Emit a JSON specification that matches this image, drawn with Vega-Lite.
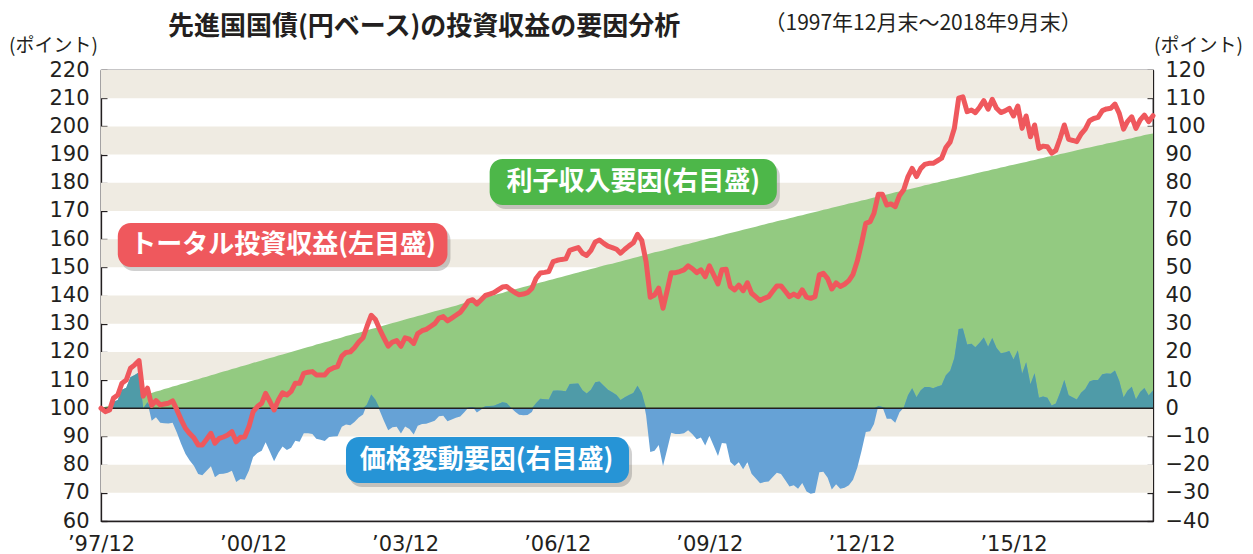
{
  "$schema": "https://vega.github.io/schema/vega-lite/v6.json",
  "width": 1052,
  "height": 451,
  "autosize": {"type": "none"},
  "padding": {"left": 101, "top": 70, "right": 100, "bottom": 33},
  "background": "white",
  "title": {"text": "先進国国債(円ベース)の投資収益の要因分析", "anchor": "start", "frame": "group", "dx": 67, "dy": 59, "font": "Noto Sans CJK JP", "fontSize": 26, "fontWeight": "bold", "color": "#231F20", "offset": 10, "baseline": "alphabetic"},
  "config": {
    "font": "Noto Sans CJK JP",
    "view": {"stroke": "#231F20", "strokeWidth": 1.2},
    "axis": {"grid": false, "labelFont": "DejaVu Sans", "labelFontSize": 21, "labelColor": "#231F20", "domainColor": "#231F20", "tickColor": "#231F20", "domainWidth": 1.3, "tickWidth": 1.3, "zindex": 1, "titleFont": "Noto Sans CJK JP", "titleFontWeight": "normal", "titleColor": "#231F20"}
  },
  "datasets": {
    "bands": [{"lo": 70, "hi": 80}, {"lo": 90, "hi": 100}, {"lo": 110, "hi": 120}, {"lo": 130, "hi": 140}, {"lo": 150, "hi": 160}, {"lo": 170, "hi": 180}, {"lo": 190, "hi": 200}, {"lo": 210, "hi": 220}],
    "notes": [
      {"kind": "total", "label": "トータル投資収益(左目盛)", "start": "1998-04-01", "end": "2004-10-01", "low": 150.1, "high": 165.7, "mid": "2001-07-05", "center": 157.9},
      {"kind": "interest", "label": "利子収入要因(右目盛)", "start": "2005-08-01", "end": "2011-04-01", "low": 172.1, "high": 188.4, "mid": "2008-06-01", "center": 180.3},
      {"kind": "price", "label": "価格変動要因(右目盛)", "start": "2002-10-01", "end": "2008-05-01", "low": 73.5, "high": 89.8, "mid": "2005-07-10", "center": 81.7}
    ],
    "returns": [
      {"date": "1997-12-01", "total": 100.0, "interest": 0.0, "price": 0.0},
      {"date": "1998-01-01", "total": 98.8, "interest": 0.5, "price": -1.7},
      {"date": "1998-02-01", "total": 99.4, "interest": 0.9, "price": -1.5},
      {"date": "1998-03-01", "total": 103.6, "interest": 1.4, "price": 2.2},
      {"date": "1998-04-01", "total": 104.7, "interest": 1.8, "price": 2.9},
      {"date": "1998-05-01", "total": 108.9, "interest": 2.3, "price": 6.6},
      {"date": "1998-06-01", "total": 110.0, "interest": 2.7, "price": 7.3},
      {"date": "1998-07-01", "total": 114.2, "interest": 3.2, "price": 11.0},
      {"date": "1998-08-01", "total": 115.4, "interest": 3.6, "price": 11.8},
      {"date": "1998-09-01", "total": 116.9, "interest": 4.1, "price": 12.8},
      {"date": "1998-10-01", "total": 104.3, "interest": 4.5, "price": -0.2},
      {"date": "1998-11-01", "total": 107.1, "interest": 5.0, "price": 2.1},
      {"date": "1998-12-01", "total": 101.0, "interest": 5.4, "price": -4.4},
      {"date": "1999-01-01", "total": 102.7, "interest": 5.9, "price": -3.2},
      {"date": "1999-02-01", "total": 101.2, "interest": 6.3, "price": -5.1},
      {"date": "1999-03-01", "total": 101.5, "interest": 6.8, "price": -5.3},
      {"date": "1999-04-01", "total": 101.8, "interest": 7.2, "price": -5.4},
      {"date": "1999-05-01", "total": 102.6, "interest": 7.7, "price": -5.1},
      {"date": "1999-06-01", "total": 99.4, "interest": 8.1, "price": -8.7},
      {"date": "1999-07-01", "total": 96.0, "interest": 8.6, "price": -12.6},
      {"date": "1999-08-01", "total": 92.9, "interest": 9.0, "price": -16.1},
      {"date": "1999-09-01", "total": 91.0, "interest": 9.5, "price": -18.5},
      {"date": "1999-10-01", "total": 89.5, "interest": 9.9, "price": -20.4},
      {"date": "1999-11-01", "total": 87.0, "interest": 10.3, "price": -23.3},
      {"date": "1999-12-01", "total": 87.0, "interest": 10.8, "price": -23.8},
      {"date": "2000-01-01", "total": 89.0, "interest": 11.2, "price": -22.2},
      {"date": "2000-02-01", "total": 91.1, "interest": 11.7, "price": -20.6},
      {"date": "2000-03-01", "total": 87.6, "interest": 12.1, "price": -24.5},
      {"date": "2000-04-01", "total": 89.3, "interest": 12.6, "price": -23.3},
      {"date": "2000-05-01", "total": 89.8, "interest": 13.0, "price": -23.2},
      {"date": "2000-06-01", "total": 90.5, "interest": 13.4, "price": -22.9},
      {"date": "2000-07-01", "total": 91.7, "interest": 13.9, "price": -22.2},
      {"date": "2000-08-01", "total": 88.1, "interest": 14.3, "price": -26.2},
      {"date": "2000-09-01", "total": 89.7, "interest": 14.8, "price": -25.1},
      {"date": "2000-10-01", "total": 89.8, "interest": 15.2, "price": -25.4},
      {"date": "2000-11-01", "total": 93.5, "interest": 15.6, "price": -22.1},
      {"date": "2000-12-01", "total": 98.8, "interest": 16.1, "price": -17.3},
      {"date": "2001-01-01", "total": 100.6, "interest": 16.5, "price": -15.9},
      {"date": "2001-02-01", "total": 101.8, "interest": 16.9, "price": -15.1},
      {"date": "2001-03-01", "total": 105.3, "interest": 17.4, "price": -12.1},
      {"date": "2001-04-01", "total": 102.4, "interest": 17.8, "price": -15.4},
      {"date": "2001-05-01", "total": 99.4, "interest": 18.2, "price": -18.8},
      {"date": "2001-06-01", "total": 102.9, "interest": 18.7, "price": -15.8},
      {"date": "2001-07-01", "total": 105.5, "interest": 19.1, "price": -13.6},
      {"date": "2001-08-01", "total": 104.7, "interest": 19.5, "price": -14.8},
      {"date": "2001-09-01", "total": 106.0, "interest": 20.0, "price": -14.0},
      {"date": "2001-10-01", "total": 108.9, "interest": 20.4, "price": -11.5},
      {"date": "2001-11-01", "total": 108.9, "interest": 20.8, "price": -11.9},
      {"date": "2001-12-01", "total": 112.4, "interest": 21.3, "price": -8.9},
      {"date": "2002-01-01", "total": 112.8, "interest": 21.7, "price": -8.9},
      {"date": "2002-02-01", "total": 113.0, "interest": 22.1, "price": -9.1},
      {"date": "2002-03-01", "total": 111.8, "interest": 22.6, "price": -10.8},
      {"date": "2002-04-01", "total": 111.8, "interest": 23.0, "price": -11.2},
      {"date": "2002-05-01", "total": 111.8, "interest": 23.4, "price": -11.6},
      {"date": "2002-06-01", "total": 113.6, "interest": 23.8, "price": -10.2},
      {"date": "2002-07-01", "total": 114.3, "interest": 24.3, "price": -10.0},
      {"date": "2002-08-01", "total": 114.8, "interest": 24.7, "price": -9.9},
      {"date": "2002-09-01", "total": 118.5, "interest": 25.1, "price": -6.6},
      {"date": "2002-10-01", "total": 119.8, "interest": 25.6, "price": -5.8},
      {"date": "2002-11-01", "total": 120.0, "interest": 26.0, "price": -6.0},
      {"date": "2002-12-01", "total": 121.5, "interest": 26.4, "price": -4.9},
      {"date": "2003-01-01", "total": 123.5, "interest": 26.8, "price": -3.3},
      {"date": "2003-02-01", "total": 125.0, "interest": 27.2, "price": -2.2},
      {"date": "2003-03-01", "total": 129.0, "interest": 27.7, "price": 1.3},
      {"date": "2003-04-01", "total": 133.0, "interest": 28.1, "price": 4.9},
      {"date": "2003-05-01", "total": 131.5, "interest": 28.5, "price": 3.0},
      {"date": "2003-06-01", "total": 128.0, "interest": 28.9, "price": -0.9},
      {"date": "2003-07-01", "total": 125.0, "interest": 29.4, "price": -4.4},
      {"date": "2003-08-01", "total": 122.0, "interest": 29.8, "price": -7.8},
      {"date": "2003-09-01", "total": 123.5, "interest": 30.2, "price": -6.7},
      {"date": "2003-10-01", "total": 124.0, "interest": 30.6, "price": -6.6},
      {"date": "2003-11-01", "total": 122.0, "interest": 31.0, "price": -9.0},
      {"date": "2003-12-01", "total": 125.0, "interest": 31.5, "price": -6.5},
      {"date": "2004-01-01", "total": 124.5, "interest": 31.9, "price": -7.4},
      {"date": "2004-02-01", "total": 123.0, "interest": 32.3, "price": -9.3},
      {"date": "2004-03-01", "total": 126.5, "interest": 32.7, "price": -6.2},
      {"date": "2004-04-01", "total": 127.5, "interest": 33.1, "price": -5.6},
      {"date": "2004-05-01", "total": 128.0, "interest": 33.5, "price": -5.5},
      {"date": "2004-06-01", "total": 129.0, "interest": 34.0, "price": -5.0},
      {"date": "2004-07-01", "total": 130.0, "interest": 34.4, "price": -4.4},
      {"date": "2004-08-01", "total": 132.0, "interest": 34.8, "price": -2.8},
      {"date": "2004-09-01", "total": 132.5, "interest": 35.2, "price": -2.7},
      {"date": "2004-10-01", "total": 131.0, "interest": 35.6, "price": -4.6},
      {"date": "2004-11-01", "total": 132.0, "interest": 36.0, "price": -4.0},
      {"date": "2004-12-01", "total": 133.0, "interest": 36.4, "price": -3.4},
      {"date": "2005-01-01", "total": 134.0, "interest": 36.9, "price": -2.9},
      {"date": "2005-02-01", "total": 136.0, "interest": 37.3, "price": -1.3},
      {"date": "2005-03-01", "total": 138.0, "interest": 37.7, "price": 0.3},
      {"date": "2005-04-01", "total": 138.5, "interest": 38.1, "price": 0.4},
      {"date": "2005-05-01", "total": 137.0, "interest": 38.5, "price": -1.5},
      {"date": "2005-06-01", "total": 138.5, "interest": 38.9, "price": -0.4},
      {"date": "2005-07-01", "total": 140.0, "interest": 39.3, "price": 0.7},
      {"date": "2005-08-01", "total": 140.5, "interest": 39.7, "price": 0.8},
      {"date": "2005-09-01", "total": 141.0, "interest": 40.1, "price": 0.9},
      {"date": "2005-10-01", "total": 142.0, "interest": 40.5, "price": 1.5},
      {"date": "2005-11-01", "total": 143.0, "interest": 40.9, "price": 2.1},
      {"date": "2005-12-01", "total": 143.2, "interest": 41.4, "price": 1.9},
      {"date": "2006-01-01", "total": 142.0, "interest": 41.8, "price": 0.2},
      {"date": "2006-02-01", "total": 141.0, "interest": 42.2, "price": -1.2},
      {"date": "2006-03-01", "total": 140.3, "interest": 42.6, "price": -2.3},
      {"date": "2006-04-01", "total": 140.5, "interest": 43.0, "price": -2.5},
      {"date": "2006-05-01", "total": 141.0, "interest": 43.4, "price": -2.4},
      {"date": "2006-06-01", "total": 142.5, "interest": 43.8, "price": -1.3},
      {"date": "2006-07-01", "total": 146.0, "interest": 44.2, "price": 1.8},
      {"date": "2006-08-01", "total": 148.0, "interest": 44.6, "price": 3.4},
      {"date": "2006-09-01", "total": 148.2, "interest": 45.0, "price": 3.2},
      {"date": "2006-10-01", "total": 148.5, "interest": 45.4, "price": 3.1},
      {"date": "2006-11-01", "total": 152.0, "interest": 45.8, "price": 6.2},
      {"date": "2006-12-01", "total": 152.5, "interest": 46.2, "price": 6.3},
      {"date": "2007-01-01", "total": 152.8, "interest": 46.6, "price": 6.2},
      {"date": "2007-02-01", "total": 153.0, "interest": 47.0, "price": 6.0},
      {"date": "2007-03-01", "total": 156.0, "interest": 47.4, "price": 8.6},
      {"date": "2007-04-01", "total": 156.5, "interest": 47.8, "price": 8.7},
      {"date": "2007-05-01", "total": 157.0, "interest": 48.2, "price": 8.8},
      {"date": "2007-06-01", "total": 155.0, "interest": 48.6, "price": 6.4},
      {"date": "2007-07-01", "total": 154.2, "interest": 49.0, "price": 5.2},
      {"date": "2007-08-01", "total": 156.0, "interest": 49.4, "price": 6.6},
      {"date": "2007-09-01", "total": 159.0, "interest": 49.8, "price": 9.2},
      {"date": "2007-10-01", "total": 159.7, "interest": 50.2, "price": 9.5},
      {"date": "2007-11-01", "total": 158.5, "interest": 50.6, "price": 8.0},
      {"date": "2007-12-01", "total": 157.5, "interest": 51.0, "price": 6.6},
      {"date": "2008-01-01", "total": 157.0, "interest": 51.3, "price": 5.7},
      {"date": "2008-02-01", "total": 156.4, "interest": 51.7, "price": 4.7},
      {"date": "2008-03-01", "total": 155.0, "interest": 52.1, "price": 2.9},
      {"date": "2008-04-01", "total": 156.4, "interest": 52.5, "price": 3.9},
      {"date": "2008-05-01", "total": 157.6, "interest": 52.9, "price": 4.7},
      {"date": "2008-06-01", "total": 158.7, "interest": 53.3, "price": 5.4},
      {"date": "2008-07-01", "total": 161.7, "interest": 53.7, "price": 8.0},
      {"date": "2008-08-01", "total": 159.5, "interest": 54.1, "price": 5.4},
      {"date": "2008-09-01", "total": 152.0, "interest": 54.5, "price": -2.5},
      {"date": "2008-10-01", "total": 139.4, "interest": 54.9, "price": -15.5},
      {"date": "2008-11-01", "total": 140.2, "interest": 55.3, "price": -15.1},
      {"date": "2008-12-01", "total": 142.6, "interest": 55.6, "price": -13.0},
      {"date": "2009-01-01", "total": 135.5, "interest": 56.0, "price": -20.5},
      {"date": "2009-02-01", "total": 142.0, "interest": 56.4, "price": -14.4},
      {"date": "2009-03-01", "total": 148.1, "interest": 56.8, "price": -8.7},
      {"date": "2009-04-01", "total": 148.1, "interest": 57.2, "price": -9.1},
      {"date": "2009-05-01", "total": 148.5, "interest": 57.6, "price": -9.1},
      {"date": "2009-06-01", "total": 149.1, "interest": 58.0, "price": -8.9},
      {"date": "2009-07-01", "total": 150.5, "interest": 58.3, "price": -7.8},
      {"date": "2009-08-01", "total": 149.5, "interest": 58.7, "price": -9.2},
      {"date": "2009-09-01", "total": 148.1, "interest": 59.1, "price": -11.0},
      {"date": "2009-10-01", "total": 149.1, "interest": 59.5, "price": -10.4},
      {"date": "2009-11-01", "total": 146.7, "interest": 59.9, "price": -13.2},
      {"date": "2009-12-01", "total": 150.5, "interest": 60.3, "price": -9.8},
      {"date": "2010-01-01", "total": 147.3, "interest": 60.6, "price": -13.3},
      {"date": "2010-02-01", "total": 144.1, "interest": 61.0, "price": -16.9},
      {"date": "2010-03-01", "total": 149.1, "interest": 61.4, "price": -12.3},
      {"date": "2010-04-01", "total": 149.3, "interest": 61.8, "price": -12.5},
      {"date": "2010-05-01", "total": 143.1, "interest": 62.2, "price": -19.1},
      {"date": "2010-06-01", "total": 142.0, "interest": 62.5, "price": -20.5},
      {"date": "2010-07-01", "total": 143.7, "interest": 62.9, "price": -19.2},
      {"date": "2010-08-01", "total": 141.7, "interest": 63.3, "price": -21.6},
      {"date": "2010-09-01", "total": 144.5, "interest": 63.7, "price": -19.2},
      {"date": "2010-10-01", "total": 140.8, "interest": 64.0, "price": -23.2},
      {"date": "2010-11-01", "total": 139.5, "interest": 64.4, "price": -24.9},
      {"date": "2010-12-01", "total": 138.2, "interest": 64.8, "price": -26.6},
      {"date": "2011-01-01", "total": 139.0, "interest": 65.2, "price": -26.2},
      {"date": "2011-02-01", "total": 139.6, "interest": 65.6, "price": -26.0},
      {"date": "2011-03-01", "total": 141.4, "interest": 65.9, "price": -24.5},
      {"date": "2011-04-01", "total": 143.4, "interest": 66.3, "price": -22.9},
      {"date": "2011-05-01", "total": 143.4, "interest": 66.7, "price": -23.3},
      {"date": "2011-06-01", "total": 141.5, "interest": 67.0, "price": -25.5},
      {"date": "2011-07-01", "total": 139.6, "interest": 67.4, "price": -27.8},
      {"date": "2011-08-01", "total": 140.5, "interest": 67.8, "price": -27.3},
      {"date": "2011-09-01", "total": 139.6, "interest": 68.2, "price": -28.6},
      {"date": "2011-10-01", "total": 142.0, "interest": 68.5, "price": -26.5},
      {"date": "2011-11-01", "total": 139.4, "interest": 68.9, "price": -29.5},
      {"date": "2011-12-01", "total": 139.0, "interest": 69.3, "price": -30.3},
      {"date": "2012-01-01", "total": 139.6, "interest": 69.6, "price": -30.0},
      {"date": "2012-02-01", "total": 147.3, "interest": 70.0, "price": -22.7},
      {"date": "2012-03-01", "total": 147.9, "interest": 70.4, "price": -22.5},
      {"date": "2012-04-01", "total": 146.0, "interest": 70.7, "price": -24.7},
      {"date": "2012-05-01", "total": 142.3, "interest": 71.1, "price": -28.8},
      {"date": "2012-06-01", "total": 144.5, "interest": 71.5, "price": -27.0},
      {"date": "2012-07-01", "total": 143.2, "interest": 71.8, "price": -28.6},
      {"date": "2012-08-01", "total": 144.0, "interest": 72.2, "price": -28.2},
      {"date": "2012-09-01", "total": 145.3, "interest": 72.6, "price": -27.3},
      {"date": "2012-10-01", "total": 147.5, "interest": 72.9, "price": -25.4},
      {"date": "2012-11-01", "total": 152.3, "interest": 73.3, "price": -21.0},
      {"date": "2012-12-01", "total": 158.5, "interest": 73.7, "price": -15.2},
      {"date": "2013-01-01", "total": 165.6, "interest": 74.0, "price": -8.4},
      {"date": "2013-02-01", "total": 166.2, "interest": 74.4, "price": -8.2},
      {"date": "2013-03-01", "total": 169.2, "interest": 74.8, "price": -5.6},
      {"date": "2013-04-01", "total": 175.9, "interest": 75.1, "price": 0.8},
      {"date": "2013-05-01", "total": 175.9, "interest": 75.5, "price": 0.4},
      {"date": "2013-06-01", "total": 172.1, "interest": 75.8, "price": -3.7},
      {"date": "2013-07-01", "total": 172.5, "interest": 76.2, "price": -3.7},
      {"date": "2013-08-01", "total": 171.5, "interest": 76.6, "price": -5.1},
      {"date": "2013-09-01", "total": 175.5, "interest": 76.9, "price": -1.4},
      {"date": "2013-10-01", "total": 177.5, "interest": 77.3, "price": 0.2},
      {"date": "2013-11-01", "total": 182.2, "interest": 77.6, "price": 4.6},
      {"date": "2013-12-01", "total": 185.1, "interest": 78.0, "price": 7.1},
      {"date": "2014-01-01", "total": 182.2, "interest": 78.3, "price": 3.9},
      {"date": "2014-02-01", "total": 185.1, "interest": 78.7, "price": 6.4},
      {"date": "2014-03-01", "total": 186.5, "interest": 79.1, "price": 7.5},
      {"date": "2014-04-01", "total": 186.9, "interest": 79.4, "price": 7.5},
      {"date": "2014-05-01", "total": 186.9, "interest": 79.8, "price": 7.1},
      {"date": "2014-06-01", "total": 187.8, "interest": 80.1, "price": 7.7},
      {"date": "2014-07-01", "total": 188.7, "interest": 80.5, "price": 8.2},
      {"date": "2014-08-01", "total": 192.5, "interest": 80.8, "price": 11.7},
      {"date": "2014-09-01", "total": 194.5, "interest": 81.2, "price": 13.3},
      {"date": "2014-10-01", "total": 199.3, "interest": 81.5, "price": 17.8},
      {"date": "2014-11-01", "total": 210.0, "interest": 81.9, "price": 28.1},
      {"date": "2014-12-01", "total": 210.5, "interest": 82.2, "price": 28.3},
      {"date": "2015-01-01", "total": 205.2, "interest": 82.6, "price": 22.6},
      {"date": "2015-02-01", "total": 205.8, "interest": 82.9, "price": 22.9},
      {"date": "2015-03-01", "total": 204.9, "interest": 83.3, "price": 21.6},
      {"date": "2015-04-01", "total": 206.8, "interest": 83.6, "price": 23.2},
      {"date": "2015-05-01", "total": 209.1, "interest": 84.0, "price": 25.1},
      {"date": "2015-06-01", "total": 206.1, "interest": 84.3, "price": 21.8},
      {"date": "2015-07-01", "total": 209.6, "interest": 84.7, "price": 24.9},
      {"date": "2015-08-01", "total": 206.4, "interest": 85.0, "price": 21.4},
      {"date": "2015-09-01", "total": 204.9, "interest": 85.4, "price": 19.5},
      {"date": "2015-10-01", "total": 205.5, "interest": 85.7, "price": 19.8},
      {"date": "2015-11-01", "total": 206.4, "interest": 86.1, "price": 20.3},
      {"date": "2015-12-01", "total": 203.7, "interest": 86.4, "price": 17.3},
      {"date": "2016-01-01", "total": 207.2, "interest": 86.7, "price": 20.5},
      {"date": "2016-02-01", "total": 199.3, "interest": 87.1, "price": 12.2},
      {"date": "2016-03-01", "total": 203.7, "interest": 87.4, "price": 16.3},
      {"date": "2016-04-01", "total": 196.3, "interest": 87.8, "price": 8.5},
      {"date": "2016-05-01", "total": 200.5, "interest": 88.1, "price": 12.4},
      {"date": "2016-06-01", "total": 192.2, "interest": 88.5, "price": 3.7},
      {"date": "2016-07-01", "total": 193.0, "interest": 88.8, "price": 4.2},
      {"date": "2016-08-01", "total": 192.8, "interest": 89.2, "price": 3.7},
      {"date": "2016-09-01", "total": 190.5, "interest": 89.5, "price": 1.0},
      {"date": "2016-10-01", "total": 191.5, "interest": 89.8, "price": 1.7},
      {"date": "2016-11-01", "total": 195.8, "interest": 90.2, "price": 5.6},
      {"date": "2016-12-01", "total": 200.5, "interest": 90.5, "price": 10.0},
      {"date": "2017-01-01", "total": 195.4, "interest": 90.8, "price": 4.6},
      {"date": "2017-02-01", "total": 195.0, "interest": 91.2, "price": 3.8},
      {"date": "2017-03-01", "total": 194.6, "interest": 91.5, "price": 3.1},
      {"date": "2017-04-01", "total": 197.3, "interest": 91.9, "price": 5.5},
      {"date": "2017-05-01", "total": 199.0, "interest": 92.2, "price": 6.8},
      {"date": "2017-06-01", "total": 202.0, "interest": 92.5, "price": 9.5},
      {"date": "2017-07-01", "total": 202.8, "interest": 92.9, "price": 10.0},
      {"date": "2017-08-01", "total": 203.2, "interest": 93.2, "price": 10.0},
      {"date": "2017-09-01", "total": 205.6, "interest": 93.5, "price": 12.1},
      {"date": "2017-10-01", "total": 206.2, "interest": 93.9, "price": 12.3},
      {"date": "2017-11-01", "total": 206.4, "interest": 94.2, "price": 12.2},
      {"date": "2017-12-01", "total": 207.9, "interest": 94.5, "price": 13.4},
      {"date": "2018-01-01", "total": 204.6, "interest": 94.9, "price": 9.7},
      {"date": "2018-02-01", "total": 199.0, "interest": 95.2, "price": 3.8},
      {"date": "2018-03-01", "total": 201.7, "interest": 95.5, "price": 6.2},
      {"date": "2018-04-01", "total": 203.4, "interest": 95.8, "price": 7.6},
      {"date": "2018-05-01", "total": 199.3, "interest": 96.2, "price": 3.1},
      {"date": "2018-06-01", "total": 202.3, "interest": 96.5, "price": 5.8},
      {"date": "2018-07-01", "total": 204.0, "interest": 96.9, "price": 7.2},
      {"date": "2018-08-01", "total": 201.7, "interest": 97.2, "price": 4.5},
      {"date": "2018-09-01", "total": 203.8, "interest": 97.5, "price": 6.3}
    ]
  },
  "resolve": {"scale": {"y": "independent"}, "axis": {"x": "independent", "y": "independent"}},
  "layer": [
    {
      "data": {"name": "bands"},
      "mark": {"type": "rect", "color": "#EFEBE2"},
      "encoding": {
        "y": {"field": "lo", "type": "quantitative", "scale": {"domain": [60, 220], "nice": false, "zero": false},
          "axis": {"orient": "left", "values": [60, 70, 80, 90, 100, 110, 120, 130, 140, 150, 160, 170, 180, 190, 200, 210, 220], "tickSize": -6, "labelPadding": 18, "labelOverlap": false, "labelFlush": false, "title": "(ポイント)", "titleAngle": 0, "titleX": -48, "titleY": -19, "titleAlign": "center", "titleBaseline": "alphabetic", "titleFontSize": 19}},
        "y2": {"field": "hi"}
      }
    },
    {
      "data": {"name": "returns"},
      "mark": {"type": "area", "color": "#93CA81"},
      "encoding": {
        "x": {"field": "date", "type": "temporal", "scale": {"type": "utc", "nice": false, "domain": [{"year": 1997, "month": 12, "date": 1, "utc": true}, {"year": 2018, "month": 9, "date": 1, "utc": true}]}, "axis": null},
        "y": {"field": "interest", "type": "quantitative", "scale": {"domain": [-40, 120], "nice": false, "zero": false},
          "axis": {"orient": "right", "values": [-40, -30, -20, -10, 0, 10, 20, 30, 40, 50, 60, 70, 80, 90, 100, 110, 120], "tickSize": -6, "labelPadding": 18, "labelOverlap": false, "labelFlush": false, "title": "(ポイント)", "titleAngle": 0, "titleX": 45, "titleY": -19, "titleAlign": "center", "titleBaseline": "alphabetic", "titleFontSize": 19}},
        "y2": {"datum": 0}
      }
    },
    {
      "data": {"name": "returns"},
      "mark": {"type": "area", "color": "#66A2D6"},
      "encoding": {
        "x": {"field": "date", "type": "temporal", "scale": {"type": "utc", "nice": false}, "axis": null},
        "y": {"field": "price", "type": "quantitative", "scale": {"domain": [-40, 120], "nice": false, "zero": false}, "axis": null},
        "y2": {"datum": 0}
      }
    },
    {
      "data": {"name": "returns"},
      "mark": {"type": "area", "color": "#4F9BA8"},
      "encoding": {
        "x": {"field": "date", "type": "temporal", "scale": {"type": "utc", "nice": false},
          "axis": {"orient": "top", "offset": -338.25, "values": [{"year": 2000, "month": 12, "date": 1, "utc": true}, {"year": 2003, "month": 12, "date": 1, "utc": true}, {"year": 2006, "month": 12, "date": 1, "utc": true}, {"year": 2009, "month": 12, "date": 1, "utc": true}, {"year": 2012, "month": 12, "date": 1, "utc": true}, {"year": 2015, "month": 12, "date": 1, "utc": true}], "labels": false, "domain": false, "tickSize": 7, "title": "（1997年12月末～2018年9月末）", "titleX": 663, "titleY": -379, "titleAlign": "left", "titleBaseline": "alphabetic", "titleFontSize": 21, "titleAngle": 0}},
        "y": {"field": "price", "type": "quantitative", "scale": {"domain": [0, 120], "range": [338.25, 0], "clamp": true, "nice": false, "zero": false}, "axis": null},
        "y2": {"datum": 0}
      }
    },
    {
      "data": {"values": [{"level": 0}]},
      "mark": {"type": "rule", "color": "#231F20", "strokeWidth": 1.3},
      "encoding": {
        "y": {"field": "level", "type": "quantitative", "scale": {"domain": [-40, 120], "nice": false, "zero": false}, "axis": null}
      }
    },
    {
      "data": {"name": "returns"},
      "mark": {"type": "line", "color": "#EF585D", "strokeWidth": 5, "strokeJoin": "round", "strokeCap": "round"},
      "encoding": {
        "x": {"field": "date", "type": "temporal", "scale": {"type": "utc", "nice": false},
          "axis": {"orient": "bottom", "values": [{"year": 1997, "month": 12, "date": 1, "utc": true}, {"year": 2000, "month": 12, "date": 1, "utc": true}, {"year": 2003, "month": 12, "date": 1, "utc": true}, {"year": 2006, "month": 12, "date": 1, "utc": true}, {"year": 2009, "month": 12, "date": 1, "utc": true}, {"year": 2012, "month": 12, "date": 1, "utc": true}, {"year": 2015, "month": 12, "date": 1, "utc": true}], "labelExpr": "utcFormat(datum.value, '’%y/%m')", "ticks": false, "labelPadding": 12, "labelFlush": false, "labelOverlap": false, "title": null}},
        "y": {"field": "total", "type": "quantitative", "scale": {"domain": [60, 220], "nice": false, "zero": false}, "axis": null}
      }
    },
    {
      "data": {"name": "notes"},
      "mark": {"type": "rect", "color": "#555555", "opacity": 0.28, "cornerRadius": 13, "xOffset": 3, "x2Offset": 3, "yOffset": 4, "y2Offset": 4},
      "encoding": {
        "x": {"field": "start", "type": "temporal", "scale": {"type": "utc", "nice": false}, "axis": null},
        "x2": {"field": "end"},
        "y": {"field": "low", "type": "quantitative", "scale": {"domain": [60, 220], "nice": false, "zero": false}, "axis": null},
        "y2": {"field": "high"}
      }
    },
    {
      "data": {"name": "notes"},
      "mark": {"type": "rect", "cornerRadius": 13},
      "encoding": {
        "x": {"field": "start", "type": "temporal", "scale": {"type": "utc", "nice": false}, "axis": null},
        "x2": {"field": "end"},
        "y": {"field": "low", "type": "quantitative", "scale": {"domain": [60, 220], "nice": false, "zero": false}, "axis": null},
        "y2": {"field": "high"},
        "color": {"field": "kind", "type": "nominal", "scale": {"domain": ["total", "interest", "price"], "range": ["#EF585D", "#4DB749", "#2694D6"]}, "legend": null}
      }
    },
    {
      "data": {"name": "notes"},
      "mark": {"type": "text", "color": "white", "font": "Noto Sans CJK JP", "fontWeight": "bold", "fontSize": 26, "align": "center", "baseline": "middle"},
      "encoding": {
        "x": {"field": "mid", "type": "temporal", "scale": {"type": "utc", "nice": false}, "axis": null},
        "y": {"field": "center", "type": "quantitative", "scale": {"domain": [60, 220], "nice": false, "zero": false}, "axis": null},
        "text": {"field": "label"}
      }
    }
  ]
}
